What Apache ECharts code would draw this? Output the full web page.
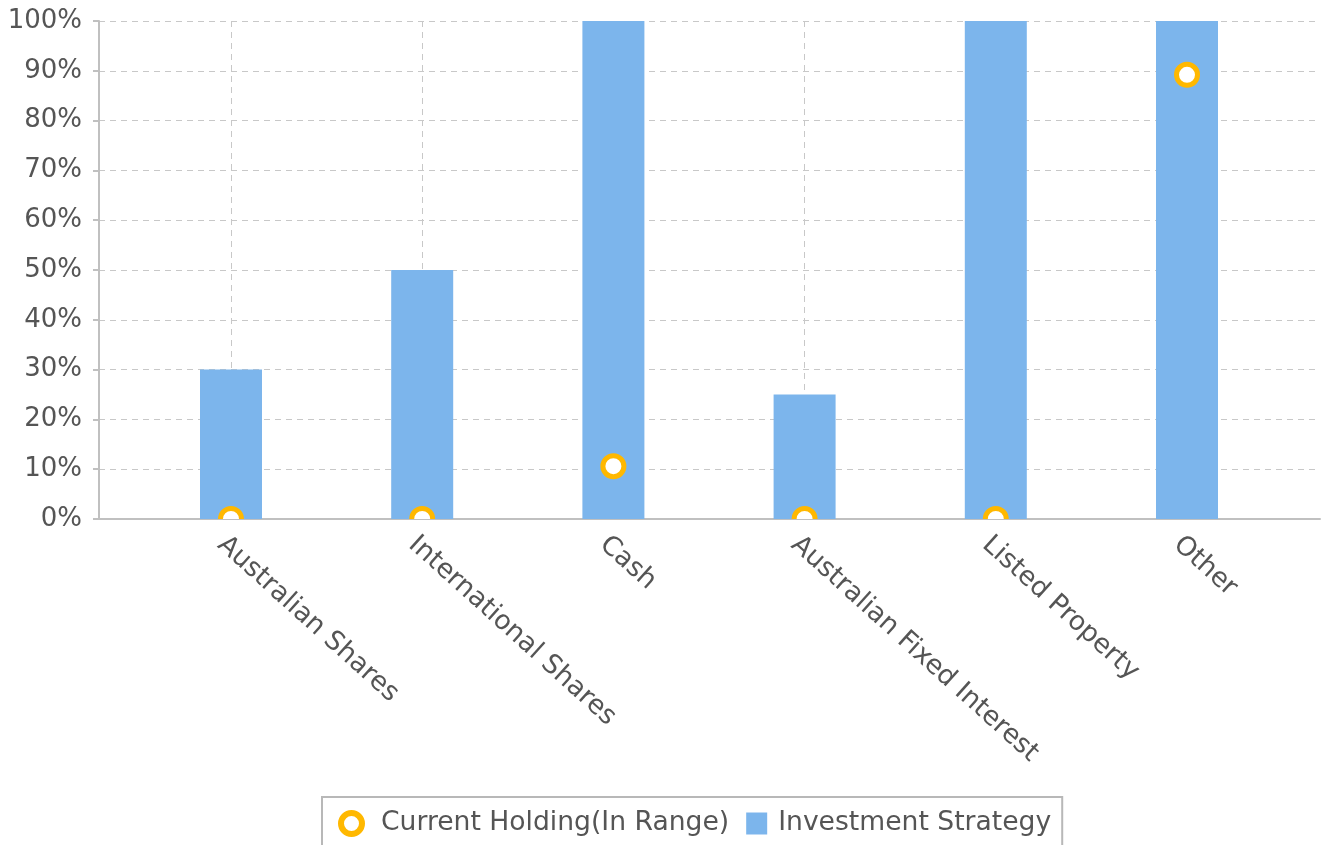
<!DOCTYPE html>
<html><head><meta charset="utf-8">
<script src="https://cdn.jsdelivr.net/npm/echarts@6/dist/echarts.min.js"></script>
<style>html,body{margin:0;padding:0;background:#fff}#c{width:1328px;height:845px}</style>
</head><body><div id="c"></div>
<script>
const categories = ['Australian Shares', 'International Shares', 'Cash', 'Australian Fixed Interest', 'Listed Property', 'Other'];
const strategyValues = [30, 50, 100, 25, 100, 100];
const holdingValues = [0, 0, 10.6, 0, 0, 89.2];
const seriesNames = ['Current Holding(In Range)', 'Investment Strategy'];

const FONT = 'DejaVu Sans';
const chart = echarts.init(document.getElementById('c'), null, {renderer: 'canvas'});
chart.setOption({
  animation: false,
  textStyle: {fontFamily: FONT},
  grid: [
    {left: 99, right: 8, top: 21, bottom: 326},
    {left: 135.4, right: 45.4, top: 21, bottom: 326},
    {left: 125.4, right: 55.4, top: 21, bottom: 326}
  ],
  xAxis: [
    {gridIndex: 0, type: 'value', min: 0, max: 1,
     axisLine: {show: true, lineStyle: {color: '#c0c0c0', width: 2}},
     axisTick: {show: false}, axisLabel: {show: false}, splitLine: {show: false}},
    {gridIndex: 1, type: 'category', data: categories,
     axisLine: {show: false}, axisTick: {show: false}, axisLabel: {show: false},
     splitLine: {show: true, alignWithLabel: true, lineStyle: {color: '#c8c8c8', type: [6, 5], width: 1}}},
    {gridIndex: 2, type: 'category', data: categories,
     axisLine: {show: false}, axisTick: {show: false}, splitLine: {show: false},
     axisLabel: {rotate: -42, margin: 22, fontSize: 26.6, color: '#555', fontFamily: FONT, interval: 0}}
  ],
  yAxis: [
    {gridIndex: 0, type: 'value', min: 0, max: 100, interval: 10,
     axisLine: {show: true, lineStyle: {color: '#c0c0c0', width: 2}},
     axisTick: {show: true, length: 6, lineStyle: {color: '#c0c0c0', width: 2}},
     axisLabel: {formatter: '{value}%', fontSize: 26, color: '#555', margin: 17, fontFamily: FONT, padding: [5, 0, 0, 0]},
     splitLine: {show: true, lineStyle: {color: '#c8c8c8', type: [6, 5], width: 1}}},
    {gridIndex: 1, type: 'value', min: 0, max: 100, show: false, splitLine: {show: false}},
    {gridIndex: 2, type: 'value', min: 0, max: 100, show: false, splitLine: {show: false}}
  ],
  legend: {
    left: 322, top: 797,
    borderColor: '#b8b8b8', borderWidth: 2, borderRadius: 0,
    padding: [13, 11, 12, 16],
    itemGap: 17, itemWidth: 21, itemHeight: 22,
    textStyle: {fontSize: 26.6, color: '#555', fontFamily: FONT,
      rich: {
        a: {fontSize: 26.6, color: '#555', fontFamily: FONT, padding: [0, 0, 0, 14]},
        b: {fontSize: 26.6, color: '#555', fontFamily: FONT, padding: [0, 0, 0, 6]}
      }},
    formatter: function (name) {
      return name === seriesNames[0] ? '{a|' + name + '}' : '{b|' + name + '}';
    },
    data: [
      {name: seriesNames[0], icon: 'circle', itemStyle: {color: '#fff', borderColor: '#FFB800', borderWidth: 6}},
      {name: seriesNames[1], icon: 'rect', itemStyle: {color: '#7CB5EC'}}
    ]
  },
  series: [
    {name: seriesNames[1], type: 'bar', xAxisIndex: 1, yAxisIndex: 1, data: strategyValues,
     barWidth: 62, itemStyle: {color: '#7CB5EC'}, z: 2},
    {name: seriesNames[0], type: 'custom', xAxisIndex: 1, yAxisIndex: 1, clip: true, z: 3,
     data: holdingValues.map((v, i) => [i, v]),
     encode: {x: 0, y: 1},
     itemStyle: {color: '#FFB800'},
     renderItem: function (params, api) {
       const p = api.coord([api.value(0), api.value(1)]);
       return {type: 'circle', shape: {cx: p[0], cy: p[1], r: 10.5},
               style: {fill: '#fff', stroke: '#FFB800', lineWidth: 5}};
     }}
  ]
});
</script></body></html>
